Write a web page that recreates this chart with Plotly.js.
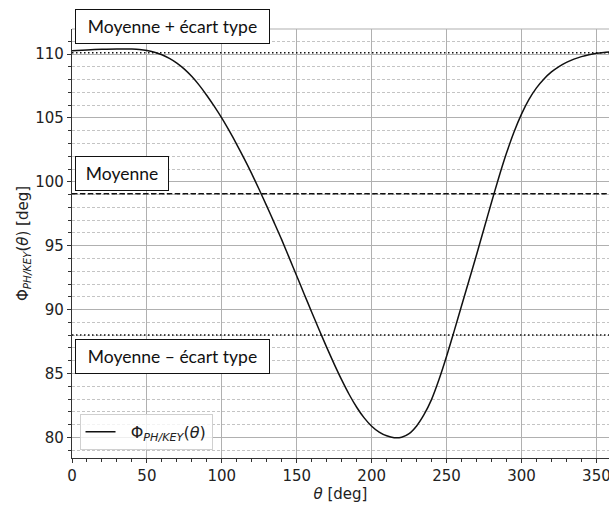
<!DOCTYPE html>
<html>
<head>
<meta charset="utf-8">
<script src="https://cdn.plot.ly/plotly-3.0.1.min.js"></script>
<style>html,body{margin:0;padding:0;background:#fff;}#chart{width:609px;height:505px;}</style>
</head>
<body>
<div id="chart"></div>
<script>
// ---- data ----
const theta = [0,10,20,30,40,45,50,55,60,65,70,75,80,85,90,95,100,105,110,115,120,125,130,135,140,145,150,155,160,165,170,175,180,185,190,195,200,205,210,215,220,225,230,235,240,245,250,255,260,265,270,275,280,285,290,295,300,305,310,315,320,325,330,335,340,345,350,355,360];
const phi = [110.26,110.32,110.37,110.40,110.39,110.36,110.28,110.14,109.94,109.66,109.29,108.82,108.24,107.55,106.76,105.90,104.98,103.98,102.92,101.80,100.62,99.38,98.10,96.79,95.46,94.05,92.63,91.21,89.80,88.41,87.05,85.74,84.50,83.36,82.36,81.53,80.88,80.42,80.13,79.98,80.02,80.30,80.90,81.80,82.98,84.55,86.35,88.30,90.30,92.30,94.30,96.35,98.40,100.40,102.25,103.90,105.30,106.45,107.35,108.05,108.60,109.02,109.35,109.60,109.80,109.95,110.06,110.13,110.18];
const meanVal = 99.06;
const stdVal = 11.04;
const refLevels = [meanVal + stdVal, meanVal, meanVal - stdVal];
const refLabels = ["Moyenne + écart type", "Moyenne", "Moyenne – écart type"];
const xTicks = [0,50,100,150,200,250,300,350];
const yTicks = [80,85,90,95,100,105,110];

const tickFont = {family: "DejaVu Sans", size: 15, color: "#222"};
const boxFont = {family: "Lato", size: 17.5, color: "#111"};

const traces = [{
  x: theta, y: phi, type: "scatter", mode: "lines",
  line: {color: "#111", width: 1.5, shape: "spline", smoothing: 0.8},
  name: "&nbsp;&nbsp;Φ<sub><i>PH/KEY</i></sub>(<i>θ</i>)"
}];

const refDash = ["1.5px,2.5px", "5.5px,2.4px", "1.5px,2.5px"];
const shapes = refLevels.map((v, i) => ({
  type: "line", xref: "paper", yref: "y", x0: 0, x1: 1, y0: v, y1: v,
  line: {color: "#111", width: 1.5, dash: refDash[i]}, layer: "above"
}));
shapes.push({type: "line", xref: "paper", yref: "paper", x0: 0, x1: 1, y0: 1, y1: 1,
  line: {color: "#b0b0b0", width: 1.2}});

// label box placement (paper y for the top one, data y for the others)
const boxW = [189, 88, 189];
const boxYref = ["paper", "y", "y"];
const boxY = [1.0047, 100.69, 86.30];
const annotations = refLabels.map((t, i) => ({
  text: t, xref: "x", yref: boxYref[i], x: 2.1, y: boxY[i],
  xanchor: "left", yanchor: "middle", showarrow: false,
  font: boxFont, bgcolor: "#fff", bordercolor: "#111", borderwidth: 1,
  borderpad: 2, width: boxW[i], height: 29, align: "center"
}));

const layout = {
  width: 609, height: 505,
  margin: {l: 72, r: 0, t: 29, b: 47},
  paper_bgcolor: "#fff", plot_bgcolor: "#fff",
  showlegend: true,
  legend: {x: 0.014, y: 0.019, xanchor: "left", yanchor: "bottom",
    bgcolor: "rgba(255,255,255,0.8)", bordercolor: "#d0d0d0", borderwidth: 1,
    font: {family: "DejaVu Sans", size: 16, color: "#222"}},
  xaxis: {
    range: [0, 358.4], tickvals: xTicks, ticks: "outside", ticklen: 4, tickwidth: 1,
    tickcolor: "#333", showline: true, linecolor: "#333", linewidth: 1.2,
    showgrid: true, gridcolor: "#b0b0b0", gridwidth: 1, zeroline: false,
    tickfont: tickFont, ticklabeloverflow: "allow",
    minor: {dtick: 10, ticks: "outside", ticklen: 2.5, tickcolor: "#333", showgrid: false},
    title: {text: "<i>θ</i> [deg]", font: tickFont, standoff: 4}
  },
  yaxis: {
    range: [78.39, 111.96], tickvals: yTicks, ticks: "outside", ticklen: 4, tickwidth: 1,
    tickcolor: "#333", showline: true, linecolor: "#333", linewidth: 1.2,
    showgrid: true, gridcolor: "#b0b0b0", gridwidth: 1, zeroline: false,
    tickfont: tickFont, ticklabeloverflow: "allow",
    minor: {dtick: 1, tick0: 0, ticks: "outside", ticklen: 2.5, tickcolor: "#333",
      showgrid: true, gridcolor: "#c4c4c4", gridwidth: 1, griddash: "3px,2px"},
    title: {text: "Φ<sub><i>PH/KEY</i></sub>(<i>θ</i>) [deg]", font: tickFont, standoff: 3}
  },
  shapes: shapes,
  annotations: annotations
};

Plotly.newPlot("chart", traces, layout, {displayModeBar: false, staticPlot: true});
</script>
</body>
</html>
